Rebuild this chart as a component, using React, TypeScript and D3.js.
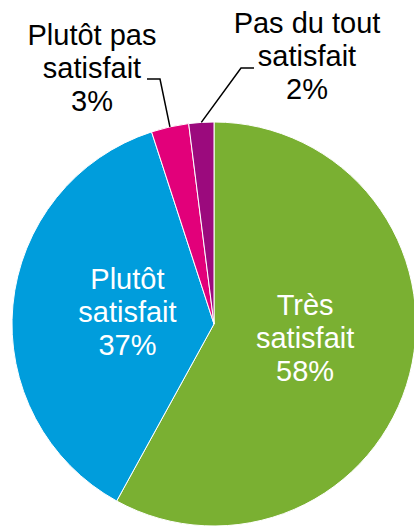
import React from "react";
import * as d3 from "d3";

const categories = ["Très satisfait", "Plutôt satisfait", "Plutôt pas satisfait", "Pas du tout satisfait"];
const values = [58, 37, 3, 2];
const colors = ["#7AB032", "#009DDC", "#E2007A", "#9B0A7D"];
// label lines as printed on the chart
const labelLines = [
  ["Très", "satisfait", "58%"],
  ["Plutôt", "satisfait", "37%"],
  ["Plutôt pas", "satisfait", "3%"],
  ["Pas du tout", "satisfait", "2%"],
];

const W = 414, H = 528;
const cx = 214, cy = 324, r = 202;
const fontSize = 29, lineH = 33;
const font = "'Liberation Sans', Arial, sans-serif";

export default function App() {
  const pie = d3.pie<number>().value((d) => d).sort(null);
  const arcs = pie(values);
  const arc = d3.arc<d3.PieArcDatum<number>>().innerRadius(0).outerRadius(r);
  const labelArc = d3.arc<d3.PieArcDatum<number>>().innerRadius(91).outerRadius(91);

  // small nudges for the inside labels (excel doesn't sit them exactly on the centroid)
  const nudge: Record<number, [number, number]> = { 0: [3, -9], 1: [4, -3] };

  // outside labels for the small slices: first baseline + leader line elbow
  const outside: Record<number, { x: number; y: number; elbow: [number, number]; knee: [number, number] }> = {
    2: { x: 92, y: 45, elbow: [147, 79], knee: [160, 79] },
    3: { x: 307, y: 33, elbow: [254, 68], knee: [241, 68] },
  };

  return (
    <svg width={W} height={H} style={{ position: "absolute", left: 0, top: 0 }}>
      <g transform={`translate(${cx},${cy})`}>
        {arcs.map((a, i) => (
          <path key={categories[i]} d={arc(a) || ""} fill={colors[i]} stroke="#fff" strokeWidth={1} />
        ))}
        {arcs.map((a, i) => {
          if (outside[i]) return null;
          const [lx, ly] = labelArc.centroid(a);
          const n = nudge[i] || [0, 0];
          const px = lx + n[0], py = ly + n[1];
          return (
            <text key={"l" + i} x={px} y={py - lineH + 10} textAnchor="middle"
              fill="#fff" fontFamily={font} fontSize={fontSize}>
              {labelLines[i].map((t, j) => (
                <tspan key={j} x={px} dy={j === 0 ? 0 : lineH}>{t}</tspan>
              ))}
            </text>
          );
        })}
      </g>
      {arcs.map((a, i) => {
        const o = outside[i];
        if (!o) return null;
        const mid = (a.startAngle + a.endAngle) / 2;
        const ex = cx + r * Math.sin(mid), ey = cy - r * Math.cos(mid);
        return (
          <g key={"o" + i}>
            <polyline points={`${o.elbow[0]},${o.elbow[1]} ${o.knee[0]},${o.knee[1]} ${ex},${ey}`}
              fill="none" stroke="#000" strokeWidth={1.5} />
            <text x={o.x} y={o.y} textAnchor="middle" fill="#000" fontFamily={font} fontSize={fontSize}>
              {labelLines[i].map((t, j) => (
                <tspan key={j} x={o.x} dy={j === 0 ? 0 : lineH}>{t}</tspan>
              ))}
            </text>
          </g>
        );
      })}
    </svg>
  );
}
